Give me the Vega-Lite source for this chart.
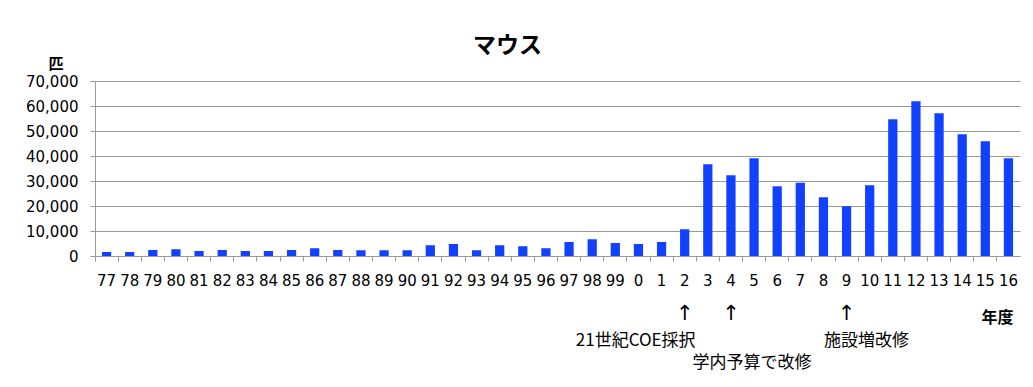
{
  "$schema": "https://vega.github.io/schema/vega-lite/v6.json",
  "autosize": "none",
  "width": 925,
  "height": 175,
  "padding": {"left": 95, "top": 81, "right": 13, "bottom": 131},
  "background": "white",
  "title": {"text": "マウス", "font": "Noto Sans CJK JP", "fontSize": 23, "fontWeight": "bold", "color": "black", "anchor": "middle", "frame": "group", "dx": -50, "offset": -2},
  "config": {"view": {"stroke": null}, "font": "DejaVu Sans"},
  "resolve": {"axis": {"y": "independent"}},
  "encoding": {
    "x": {
      "field": "year", "type": "nominal", "sort": null,
      "scale": {"paddingInner": 0.6, "paddingOuter": 0.3,
        "domain": ["77","78","79","80","81","82","83","84","85","86","87","88","89","90","91","92","93","94","95","96","97","98","99","0","1","2","3","4","5","6","7","8","9","10","11","12","13","14","15","16"]},
      "axis": {
        "title": "年度", "titleFont": "Noto Sans CJK JP", "titleFontSize": 16, "titleFontWeight": "bold", "titleColor": "black",
        "titleAnchor": "start", "titleAlign": "right", "titleBaseline": "alphabetic", "titleX": 918, "titleY": 66,
        "labelAngle": 0, "labelFontSize": 15, "labelColor": "black", "labelPadding": 12,
        "tickSize": 5, "tickColor": "#999999", "domainColor": "#999999",
        "bandPosition": -0.75, "grid": false
      }
    }
  },
  "layer": [
    {
      "data": {"values": [
        {"year": "77", "mice": 1600}, {"year": "78", "mice": 1600}, {"year": "79", "mice": 2400}, {"year": "80", "mice": 2700},
        {"year": "81", "mice": 2000}, {"year": "82", "mice": 2400}, {"year": "83", "mice": 2000}, {"year": "84", "mice": 2000},
        {"year": "85", "mice": 2400}, {"year": "86", "mice": 3100}, {"year": "87", "mice": 2400}, {"year": "88", "mice": 2300},
        {"year": "89", "mice": 2300}, {"year": "90", "mice": 2300}, {"year": "91", "mice": 4300}, {"year": "92", "mice": 4800},
        {"year": "93", "mice": 2300}, {"year": "94", "mice": 4300}, {"year": "95", "mice": 3900}, {"year": "96", "mice": 3100},
        {"year": "97", "mice": 5600}, {"year": "98", "mice": 6700}, {"year": "99", "mice": 5200}, {"year": "0", "mice": 4800},
        {"year": "1", "mice": 5600}, {"year": "2", "mice": 10700}, {"year": "3", "mice": 36700}, {"year": "4", "mice": 32300},
        {"year": "5", "mice": 39100}, {"year": "6", "mice": 27900}, {"year": "7", "mice": 29300}, {"year": "8", "mice": 23500},
        {"year": "9", "mice": 19900}, {"year": "10", "mice": 28300}, {"year": "11", "mice": 54700}, {"year": "12", "mice": 61900},
        {"year": "13", "mice": 57100}, {"year": "14", "mice": 48700}, {"year": "15", "mice": 45900}, {"year": "16", "mice": 39100}
      ]},
      "mark": {"type": "bar", "color": "#1240ff"},
      "encoding": {
        "y": {
          "field": "mice", "type": "quantitative",
          "scale": {"domain": [0, 70000], "nice": false},
          "axis": {
            "values": [0, 10000, 20000, 30000, 40000, 50000, 60000, 70000], "format": ",d",
            "title": "匹", "titleFont": "Noto Sans CJK JP", "titleFontSize": 15, "titleFontWeight": "bold", "titleColor": "black",
            "titleAngle": 0, "titleAlign": "center", "titleBaseline": "alphabetic", "titleX": -39.5, "titleY": -13,
            "labelFontSize": 15, "labelColor": "black", "labelPadding": 12,
            "tickSize": 5, "tickColor": "#999999", "domainColor": "#999999",
            "grid": true, "gridColor": "#999999", "gridWidth": 1
          }
        }
      }
    },
    {
      "data": {"values": [{"year": "2", "arrow": "↑"}, {"year": "4", "arrow": "↑"}, {"year": "9", "arrow": "↑"}]},
      "mark": {"type": "text", "font": "DejaVu Sans", "fontSize": 21, "baseline": "middle", "dy": 58, "color": "black"},
      "encoding": {"y": {"datum": 0, "type": "quantitative", "axis": null}, "text": {"field": "arrow"}}
    },
    {
      "data": {"values": [{"year": "2", "note": "21世紀COE採択"}]},
      "mark": {"type": "text", "font": "Noto Sans CJK JP", "fontSize": 17, "baseline": "middle", "dy": 85, "dx": -49, "color": "black"},
      "encoding": {"y": {"datum": 0, "type": "quantitative", "axis": null}, "text": {"field": "note"}}
    },
    {
      "data": {"values": [{"year": "4", "note": "学内予算で改修"}]},
      "mark": {"type": "text", "font": "Noto Sans CJK JP", "fontSize": 17, "baseline": "middle", "dy": 107, "dx": 21, "color": "black"},
      "encoding": {"y": {"datum": 0, "type": "quantitative", "axis": null}, "text": {"field": "note"}}
    },
    {
      "data": {"values": [{"year": "9", "note": "施設増改修"}]},
      "mark": {"type": "text", "font": "Noto Sans CJK JP", "fontSize": 17, "baseline": "middle", "dy": 85, "dx": 20, "color": "black"},
      "encoding": {"y": {"datum": 0, "type": "quantitative", "axis": null}, "text": {"field": "note"}}
    }
  ]
}
